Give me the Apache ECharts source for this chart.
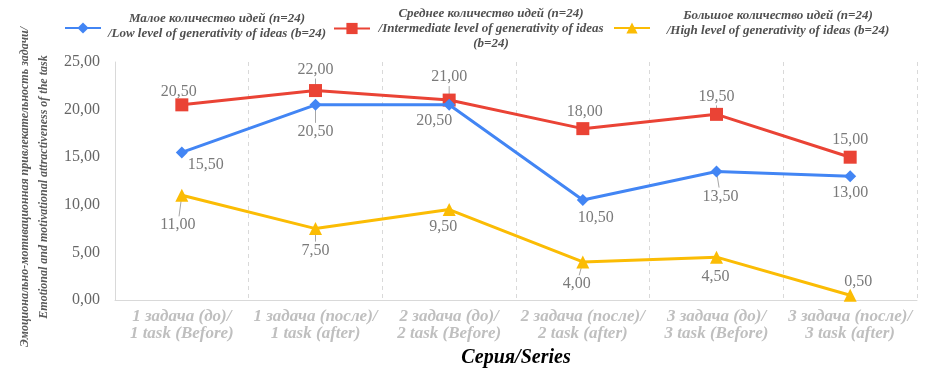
<!DOCTYPE html>
<html>
<head>
<meta charset="utf-8">
<script src="https://cdn.jsdelivr.net/npm/echarts@6/dist/echarts.min.js"></script>
<style>
html,body{margin:0;padding:0;background:#fff;}
#chart{width:937px;height:385px;}
</style>
</head>
<body>
<div id="chart"></div>
<script>
// ---- data ----
var categories = [
  '1 задача (до)/\n1 task (Before)',
  '1 задача (после)/\n1 task (after)',
  '2 задача (до)/\n2 task (Before)',
  '2 задача (после)/\n2 task (after)',
  '3 задача (до)/\n3 task (Before)',
  '3 задача (после)/\n3 task (after)'
];
var seriesNames = [
  'Малое количество идей (n=24)\n/Low level of generativity of ideas (b=24)',
  'Среднее количество идей (n=24)\n/Intermediate level of generativity of ideas\n(b=24)',
  'Большое количество идей (n=24)\n/High level of generativity of ideas (b=24)'
];
var lowValues = [15.5, 20.5, 20.5, 10.5, 13.5, 13.0];
var midValues = [20.5, 22.0, 21.0, 18.0, 19.5, 15.0];
var highValues = [11.0, 7.5, 9.5, 4.0, 4.5, 0.5];
var yTicks = [0, 5, 10, 15, 20, 25];
var yAxisTitle = 'Эмоционально-мотивационная привлекательность задачи/\nEmotional and motivational attractiveness of the task';
var xAxisTitle = 'Серия/Series';

// ---- label placement (styles, not data) ----
var labelOffsets = [
  [[24, 12], [0, 27], [-15, 16], [13, 18], [4, 25], [0, 17]],
  [[-3, -13], [0, -21], [0, -23], [2, -17], [0, -18], [0, -17]],
  [[-4, 30], [0, 22], [-6, 17], [-6, 22], [-1, 20], [8, -13]]
];
var leaderLines = [
  [false, true, false, false, true, false],
  [false, true, true, false, true, false],
  [true, true, false, true, false, false]
];

function fmt(v) { return v.toFixed(2).replace('.', ','); }

var colors = ['#4285F4', '#EA4335', '#FBBC04'];
var symbols = ['diamond', 'rect', 'triangle'];
var symbolSizes = [12, 13, 13];
var valuesList = [lowValues, midValues, highValues];

var serif = '"Liberation Serif", "Times New Roman", serif';

var series = valuesList.map(function (vals, si) {
  return {
    name: seriesNames[si],
    type: 'line',
    data: vals,
    color: colors[si],
    symbol: symbols[si],
    symbolSize: symbolSizes[si],
    lineStyle: { width: 3, color: colors[si] },
    itemStyle: { color: colors[si] },
    z: 3 - si + 1,
    label: {
      show: true,
      position: 'inside',
      formatter: function (p) { return fmt(p.value); },
      fontFamily: serif,
      fontSize: 16,
      color: '#7a7a7a'
    },
    labelLayout: function (params) {
      var o = labelOffsets[si][params.dataIndex];
      return { dx: o[0], dy: o[1] };
    }
  };
});

// leader lines from each point toward its label (positions from the axes' scales)
var leaderData = [];
valuesList.forEach(function (vals, si) {
  vals.forEach(function (v, i) {
    if (leaderLines[si][i]) leaderData.push([i, v, si]);
  });
});
series.push({
  type: 'custom',
  silent: true,
  z: 1,
  data: leaderData,
  renderItem: function (params, api) {
    var p = api.coord([api.value(0), api.value(1)]);
    var si = api.value(2);
    var o = labelOffsets[si][api.value(0)];
    var len = Math.sqrt(o[0] * o[0] + o[1] * o[1]);
    var ux = o[0] / len, uy = o[1] / len;
    return {
      type: 'line',
      shape: {
        x1: p[0] + ux * 3, y1: p[1] + uy * 3,
        x2: p[0] + ux * (len - 9), y2: p[1] + uy * (len - 9)
      },
      style: { stroke: '#a6a6a6', lineWidth: 1 }
    };
  }
});

function legendBuilder(idx, left, top, w, spacer) {
  var lines = seriesNames[idx].split('\n');
  return {
    data: [seriesNames[idx]],
    left: left,
    top: top,
    padding: 0,
    itemWidth: 36,
    itemHeight: 14,
    selectedMode: false,
    formatter: function () {
      var s = lines.map(function (l) { return '{t|' + l + '}'; }).join('\n');
      if (spacer) s += '\n{s| }';
      return s;
    },
    textStyle: {
      rich: {
        t: {
          width: w, align: 'center',
          fontFamily: serif, fontSize: 13, fontWeight: 'bold', fontStyle: 'italic',
          color: '#505050', lineHeight: 15
        },
        s: { fontSize: 2, lineHeight: spacer || 1, height: spacer || 1 }
      }
    }
  };
}

var chart = echarts.init(document.getElementById('chart'));
chart.setOption({
  animation: false,
  backgroundColor: '#ffffff',
  legend: [
    legendBuilder(0, 64, 12, 222, 4),
    legendBuilder(1, 333, 7, 232, 0),
    legendBuilder(2, 613, 9, 246, 10)
  ],
  grid: { left: 115, right: 20, top: 62, bottom: 85, containLabel: false },
  xAxis: {
    type: 'category',
    data: categories,
    boundaryGap: true,
    axisLine: { show: true, lineStyle: { color: '#d9d9d9', width: 1 } },
    axisTick: { show: false },
    splitLine: { show: true, lineStyle: { color: '#d9d9d9', type: [4, 4], width: 1 } },
    axisLabel: {
      interval: 0,
      margin: 8,
      fontFamily: serif, fontSize: 17, fontWeight: 'bold', fontStyle: 'italic',
      color: '#bfbfbf', lineHeight: 17
    },
    name: xAxisTitle,
    nameLocation: 'middle',
    nameGap: 48,
    nameTextStyle: {
      fontFamily: serif, fontSize: 20, fontWeight: 'bold', fontStyle: 'italic', color: '#000'
    }
  },
  yAxis: {
    type: 'value',
    min: yTicks[0],
    max: yTicks[yTicks.length - 1],
    interval: yTicks[1] - yTicks[0],
    axisLine: { show: true, lineStyle: { color: '#d9d9d9', width: 1 } },
    axisTick: { show: false },
    splitLine: { show: false },
    axisLabel: {
      margin: 15,
      fontFamily: serif, fontSize: 16, color: '#666',
      formatter: function (v) { return fmt(v); }
    },
    name: yAxisTitle,
    nameLocation: 'middle',
    nameRotate: 90,
    nameGap: 62,
    nameMoveOverlap: false,
    nameTextStyle: {
      fontFamily: serif, fontSize: 12, fontWeight: 'bold', fontStyle: 'italic',
      color: '#595959', lineHeight: 19, padding: [0, 12, 0, 0]
    }
  },
  series: series
});
</script>
</body>
</html>
